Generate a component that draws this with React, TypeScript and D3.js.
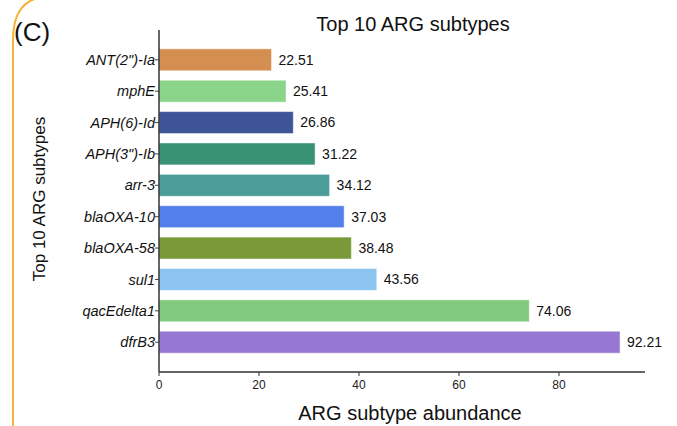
import * as d3 from 'd3';

const subtypes = ['ANT(2")-Ia', 'mphE', 'APH(6)-Id', 'APH(3")-Ib', 'arr-3', 'blaOXA-10', 'blaOXA-58', 'sul1', 'qacEdelta1', 'dfrB3'];
const abundance = [22.51, 25.41, 26.86, 31.22, 34.12, 37.03, 38.48, 43.56, 74.06, 92.21];
const barColors = ['#D48F50', '#8AD58A', '#3D5497', '#389273', '#4C9C9A', '#537FEB', '#7A9A39', '#8CC5F0', '#82CB7E', '#9677D2'];
const xTicks = [0, 20, 40, 60, 80];

const W = 677;
const H = 426;
const left = 159;
const right = 645;
const top = 30;
const bottom = 372;

const App = () => {
    const x = d3.scaleLinear().domain([0, 97.2]).range([left, right]);
    const y = d3.scaleBand<string>()
        .domain(subtypes)
        .range([top, bottom])
        .paddingInner(0.3)
        .paddingOuter(0.6);

    const font = '"Liberation Sans", Arial, sans-serif';

    return (
        <svg width={W} height={H} style={{ position: 'absolute', left: 0, top: 0, background: '#fff' }} fontFamily={font}>
            {/* orange panel border */}
            <path d={`M13,${H} L13,40 Q13,4 38,-2`} fill="none" stroke="#F6B33C" strokeWidth={2} />

            <text x={14} y={41} fontSize={26} fill="#111">(C)</text>
            <text x={413} y={31} fontSize={20} textAnchor="middle" fill="#111">Top 10 ARG subtypes</text>
            <text transform={`translate(45,199) rotate(-90)`} fontSize={17} textAnchor="middle" fill="#111">Top 10 ARG subtypes</text>
            <text x={410} y={420} fontSize={20} textAnchor="middle" fill="#111">ARG subtype abundance</text>

            {subtypes.map((s, i) => (
                <g key={s}>
                    <rect
                        x={x(0)}
                        y={y(s)}
                        width={x(abundance[i]) - x(0)}
                        height={y.bandwidth()}
                        fill={barColors[i]}
                        stroke="#ffffff"
                        strokeOpacity={0.5}
                        strokeWidth={1}
                    />
                    <text x={x(abundance[i]) + 7} y={(y(s) ?? 0) + y.bandwidth() / 2} dy="0.35em" fontSize={14} fill="#111">
                        {abundance[i].toFixed(2)}
                    </text>
                    <line x1={left - 4} x2={left} y1={(y(s) ?? 0) + y.bandwidth() / 2} y2={(y(s) ?? 0) + y.bandwidth() / 2} stroke="#444" />
                    <text x={left - 4} y={(y(s) ?? 0) + y.bandwidth() / 2} dy="0.35em" fontSize={14.5} fontStyle="italic" textAnchor="end" fill="#111">
                        {s}
                    </text>
                </g>
            ))}

            {/* axes */}
            <line x1={left} x2={left} y1={top} y2={bottom} stroke="#333" strokeWidth={1.5} />
            <line x1={left} x2={right} y1={bottom} y2={bottom} stroke="#333" strokeWidth={1.5} />
            {xTicks.map(t => (
                <g key={t}>
                    <line x1={x(t)} x2={x(t)} y1={bottom} y2={bottom + 4} stroke="#333" />
                    <text x={x(t)} y={bottom + 17} fontSize={12} textAnchor="middle" fill="#222">{t}</text>
                </g>
            ))}
        </svg>
    );
};

export default App;
